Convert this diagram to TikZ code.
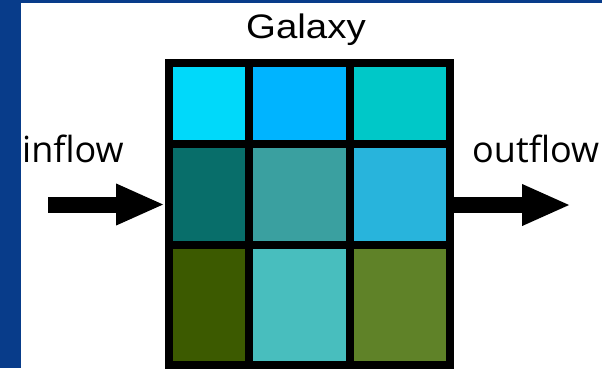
\documentclass[tikz,border=0pt]{standalone}
\usepackage{fontspec}
\setmainfont{Open Sans}
\newfontfamily\galfont{Liberation Sans}
\usetikzlibrary{arrows.meta}
\definecolor{band}{RGB}{8,60,138}
\definecolor{cA}{RGB}{0,217,250}
\definecolor{cB}{RGB}{0,180,255}
\definecolor{cC}{RGB}{0,200,200}
\definecolor{cD}{RGB}{8,110,106}
\definecolor{cE}{RGB}{58,160,160}
\definecolor{cF}{RGB}{40,180,220}
\definecolor{cG}{RGB}{60,90,0}
\definecolor{cH}{RGB}{72,190,190}
\definecolor{cI}{RGB}{95,130,40}
\begin{document}
\begin{tikzpicture}[x=1pt,y=-1pt,
  cell/.style n args={3}{draw=black, line width=8pt, inner sep=0pt, outer sep=4pt,
    minimum width=#1, minimum height=#2, fill=#3},
  lbl/.style={inner sep=0pt, font=\fontsize{36}{42}\selectfont},
  flow/.style={line width=16pt, -{Triangle[length=49pt,width=38pt]}}]
\useasboundingbox (0,0) rectangle (602,368);
\fill[white] (0,0) rectangle (602,368);
\fill[band] (0,0) rectangle (21,368);
\fill[band] (0,0) rectangle (602,3);
% row 1
\node[cell={80pt}{81pt}{cA}] (c11) at (209,103.5) {};
\node[cell={101pt}{81pt}{cB}] (c12) at (299.5,103.5) {};
\node[cell={100pt}{81pt}{cC}] (c13) at (400,103.5) {};
% row 2
\node[cell={80pt}{101pt}{cD}] (c21) at (209,194.5) {};
\node[cell={101pt}{101pt}{cE}] (c22) at (299.5,194.5) {};
\node[cell={100pt}{101pt}{cF}] (c23) at (400,194.5) {};
% row 3
\node[cell={80pt}{119.5pt}{cG}] (c31) at (209,304.75) {};
\node[cell={101pt}{119.5pt}{cH}] (c32) at (299.5,304.75) {};
\node[cell={100pt}{119.5pt}{cI}] (c33) at (400,304.75) {};
% labels
\node[anchor=base, inner sep=0pt, font=\galfont\fontsize{34}{40}\selectfont] (gal) at (306,38) {\scalebox{1.13}[1]{Galaxy}};
\node[lbl, anchor=base west] (in) at (22,162) {inflow};
\node[lbl, anchor=base west] (out) at (472,162) {outflow};
% arrows
\coordinate (inS) at (48,204.5);
\coordinate (outE) at (571,205);
\draw[flow] (inS) -- (c21.west |- inS);
\draw[flow] (c23.east |- outE) -- (outE);
\end{tikzpicture}
\end{document}
